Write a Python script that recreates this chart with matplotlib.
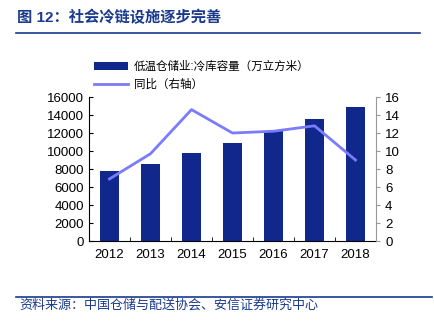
import matplotlib.pyplot as plt
import numpy as np

plt.rcParams['font.family'] = ['Liberation Sans', 'Noto Sans CJK SC', 'DejaVu Sans']

years = ['2012', '2013', '2014', '2015', '2016', '2017', '2018']
capacity = [7740, 8550, 9740, 10850, 12180, 13590, 14850]
yoy = [6.9, 9.7, 14.6, 12.0, 12.2, 12.8, 9.0]

bar_color = '#10288c'
line_color = '#7b7bff'
title_color = '#1a3a8c'

fig = plt.figure(figsize=(4.35, 3.26), dpi=100)
ax = fig.add_axes([0.2046, 0.2607, 0.6598, 0.4417])
x = np.arange(len(years))
bars = ax.bar(x, capacity, width=0.46, color=bar_color, label='低温仓储业:冷库容量（万立方米）')
ax.set_xlim(-0.5, len(years) - 0.5)
ax.set_ylim(0, 16000)
ax.set_yticks(range(0, 16001, 2000))
ax.set_xticks(x)
ax.set_xticklabels(years)
ax.set_xticks(np.arange(-0.5, len(years)), minor=True)
ax.tick_params(axis='x', which='major', length=0, labelsize=9.5, pad=6)
ax.tick_params(axis='x', which='minor', length=3, direction='in')
ax.tick_params(axis='y', direction='in', length=3, labelsize=9.5)
ax.spines['top'].set_visible(False)
ax.spines['right'].set_visible(False)

ax2 = ax.twinx()
line, = ax2.plot(x, yoy, color=line_color, linewidth=2, label='同比（右轴）')
ax2.set_ylim(0, 16)
ax2.set_yticks(range(0, 17, 2))
ax2.tick_params(axis='y', direction='out', length=3, labelsize=9.5, color='#999999')
for s in ['top', 'left', 'bottom']:
    ax2.spines[s].set_visible(False)
ax2.spines['right'].set_color('#999999')

fig.legend(handles=[bars, line], loc='upper left', bbox_to_anchor=(0.192, 0.845),
           frameon=False, fontsize=8.3, handlelength=3.0, handleheight=0.6,
           labelspacing=0.55, handletextpad=0.5)

fig.text(0.04, 0.948, '图 12：社会冷链设施逐步完善', fontsize=11, fontweight='bold',
         color=title_color, va='center')
fig.add_artist(plt.Line2D([0.037, 0.965], [0.898, 0.898], color=title_color, linewidth=1.2))
fig.add_artist(plt.Line2D([0.037, 0.993], [0.089, 0.089], color=title_color, linewidth=1.2))
fig.text(0.044, 0.063, '资料来源：中国仓储与配送协会、安信证券研究中心', fontsize=9.4, style='italic',
         color=title_color, va='center')

plt.savefig('out.png')
